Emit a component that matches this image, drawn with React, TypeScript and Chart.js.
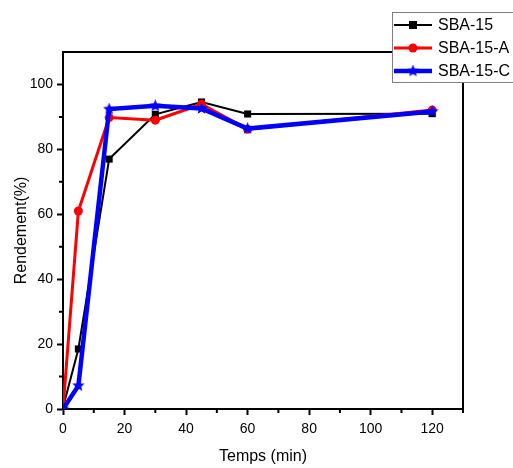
import React, { useEffect, useRef } from 'react';
import { Chart, registerables } from 'chart.js';

Chart.register(...registerables);

// Reaction time (min) and yield (%) for each catalyst
const times = [0, 5, 15, 30, 45, 60, 120];
const sba15 = [0.5, 18.5, 77.0, 90.8, 94.6, 90.9, 91.0];
const sba15A = [0, 61.0, 89.8, 89.0, 93.9, 86.2, 92.1];
const sba15C = [0, 7.2, 92.4, 93.4, 92.6, 86.4, 91.7];
const seriesNames = ['SBA-15', 'SBA-15-A', 'SBA-15-C'];
const xMajorTicks = [0, 20, 40, 60, 80, 100, 120];
const yMajorTicks = [0, 20, 40, 60, 80, 100];
const xMinorTicks = [10, 30, 50, 70, 90, 110, 130];
const yMinorTicks = [10, 30, 50, 70, 90];

const FONT = 'Arial, "Liberation Sans", sans-serif';

function makeStar(size: number, color: string): HTMLCanvasElement {
  const c = document.createElement('canvas');
  c.width = size;
  c.height = size;
  const ctx = c.getContext('2d')!;
  const cx = size / 2;
  const cy = size / 2;
  const R = size / 2;
  const r = R * 0.45;
  ctx.beginPath();
  for (let i = 0; i < 10; i++) {
    const rad = i % 2 === 0 ? R : r;
    const a = -Math.PI / 2 + (i * Math.PI) / 5;
    const x = cx + rad * Math.cos(a);
    const y = cy + rad * Math.sin(a);
    if (i === 0) ctx.moveTo(x, y);
    else ctx.lineTo(x, y);
  }
  ctx.closePath();
  ctx.fillStyle = color;
  ctx.fill();
  return c;
}

const toPoints = (ys: number[]) => times.map((t, i) => ({ x: t, y: ys[i] }));

// Closes the frame (top and right edges) and adds the short minor ticks
const framePlugin = {
  id: 'frame',
  afterDraw(chart: any) {
    const { ctx, chartArea, scales } = chart;
    ctx.save();
    ctx.strokeStyle = '#000';
    ctx.lineWidth = 2;
    ctx.beginPath();
    ctx.moveTo(chartArea.left, chartArea.top);
    ctx.lineTo(chartArea.right, chartArea.top);
    ctx.lineTo(chartArea.right, chartArea.bottom);
    ctx.stroke();
    ctx.beginPath();
    xMinorTicks.forEach((v) => {
      const px = scales.x.getPixelForValue(v);
      ctx.moveTo(px, chartArea.bottom);
      ctx.lineTo(px, chartArea.bottom + 4);
    });
    yMinorTicks.forEach((v) => {
      const py = scales.y.getPixelForValue(v);
      ctx.moveTo(chartArea.left, py);
      ctx.lineTo(chartArea.left - 4, py);
    });
    ctx.stroke();
    ctx.restore();
  },
};

// Boxed legend in the upper-right corner
const legendPlugin = {
  id: 'boxLegend',
  afterDraw(chart: any) {
    const { ctx } = chart;
    const boxX = 392.5;
    const boxY = 12.5;
    ctx.save();
    ctx.fillStyle = '#fff';
    ctx.strokeStyle = '#808080';
    ctx.lineWidth = 1;
    ctx.fillRect(boxX, boxY, 140, 70);
    ctx.strokeRect(boxX, boxY, 140, 70);
    chart.data.datasets.forEach((ds: any, i: number) => {
      const y = 25 + i * 23;
      ctx.strokeStyle = ds.borderColor;
      ctx.lineWidth = ds.borderWidth;
      ctx.beginPath();
      ctx.moveTo(394, y);
      ctx.lineTo(432, y);
      ctx.stroke();
      const mx = 413;
      ctx.fillStyle = ds.pointBackgroundColor;
      if (ds.pointStyle === 'rect') {
        ctx.fillRect(mx - 4, y - 4, 8, 8);
      } else if (ds.pointStyle === 'circle') {
        ctx.beginPath();
        ctx.arc(mx, y, 4.5, 0, Math.PI * 2);
        ctx.fill();
      } else {
        const img = ds.pointStyle as HTMLCanvasElement;
        ctx.drawImage(img, mx - img.width / 2, y - img.height / 2);
      }
      ctx.fillStyle = '#000';
      ctx.font = `16px ${FONT}`;
      ctx.textBaseline = 'middle';
      ctx.textAlign = 'left';
      ctx.fillText(ds.label, 438, y + 1);
    });
    ctx.restore();
  },
};

export default function App() {
  const ref = useRef<HTMLCanvasElement | null>(null);

  useEffect(() => {
    document.body.style.margin = '0';
    if (!ref.current) return;
    const star = makeStar(13, '#0000ff');
    const chart = new Chart(ref.current, {
      type: 'line',
      data: {
        datasets: [
          {
            label: seriesNames[0],
            data: toPoints(sba15),
            borderColor: '#000000',
            backgroundColor: '#000000',
            pointBackgroundColor: '#000000',
            pointBorderColor: '#000000',
            borderWidth: 2,
            pointStyle: 'rect',
            pointRadius: 5,
            pointBorderWidth: 0,
            order: 3,
          },
          {
            label: seriesNames[1],
            data: toPoints(sba15A),
            borderColor: '#ff0000',
            backgroundColor: '#ff0000',
            pointBackgroundColor: '#ff0000',
            pointBorderColor: '#ff0000',
            borderWidth: 3,
            pointStyle: 'circle',
            pointRadius: 4.5,
            pointBorderWidth: 0,
            order: 2,
          },
          {
            label: seriesNames[2],
            data: toPoints(sba15C),
            borderColor: '#0000ff',
            backgroundColor: '#0000ff',
            pointBackgroundColor: '#0000ff',
            pointBorderColor: '#0000ff',
            borderWidth: 4.5,
            pointStyle: star as any,
            pointRadius: 6,
            pointBorderWidth: 0,
            order: 1,
          },
        ],
      },
      options: {
        responsive: false,
        animation: false,
        layout: { padding: { top: 52, right: 50, left: 0, bottom: 0 } },
        plugins: { legend: { display: false }, tooltip: { enabled: false } },
        scales: {
          x: {
            type: 'linear',
            min: 0,
            max: 130,
            afterBuildTicks: (s: any) => {
              s.ticks = xMajorTicks.map((v) => ({ value: v }));
            },
            afterFit: (s: any) => {
              s.height = 59;
            },
            ticks: {
              color: '#000',
              font: { family: FONT, size: 14 },
              padding: 6,
              maxRotation: 0,
            },
            grid: {
              drawOnChartArea: false,
              drawTicks: true,
              tickLength: 6,
              tickWidth: 2,
              tickColor: '#000',
            },
            border: { display: true, color: '#000', width: 2 },
            title: {
              display: true,
              text: 'Temps (min)',
              color: '#000',
              font: { family: FONT, size: 16 },
              padding: { top: 0, bottom: 2 },
            },
          },
          y: {
            type: 'linear',
            min: 0,
            max: 110,
            afterBuildTicks: (s: any) => {
              s.ticks = yMajorTicks.map((v) => ({ value: v }));
            },
            afterFit: (s: any) => {
              s.width = 63;
            },
            ticks: {
              color: '#000',
              font: { family: FONT, size: 14 },
              padding: 4,
            },
            grid: {
              drawOnChartArea: false,
              drawTicks: true,
              tickLength: 6,
              tickWidth: 2,
              tickColor: '#000',
            },
            border: { display: true, color: '#000', width: 2 },
            title: {
              display: true,
              text: 'Rendement(%)',
              color: '#000',
              font: { family: FONT, size: 16 },
              padding: { top: 12, bottom: 0 },
            },
          },
        },
      },
      plugins: [framePlugin, legendPlugin],
    });
    return () => chart.destroy();
  }, []);

  return <canvas ref={ref} width={513} height={468} style={{ display: 'block' }} />;
}
